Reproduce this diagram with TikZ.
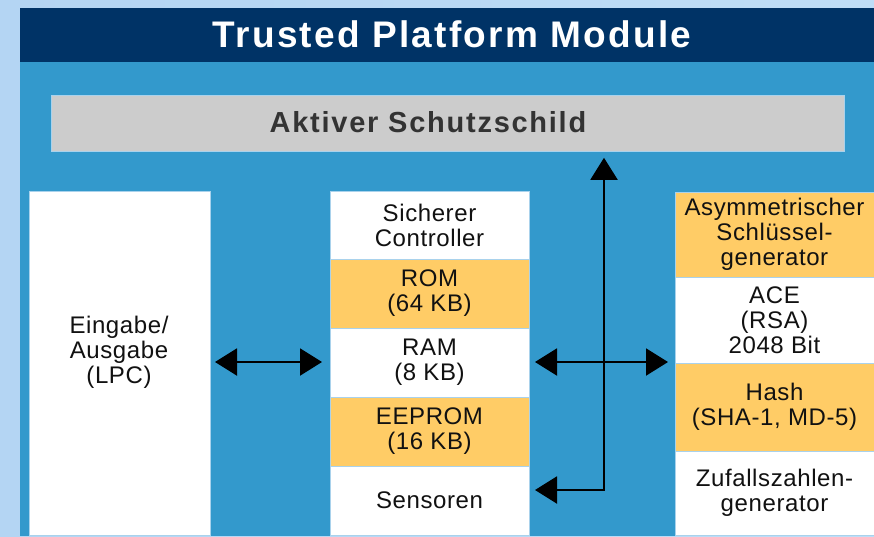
\documentclass[tikz,border=0pt]{standalone}
\usepackage{fontspec}
\setmainfont[LetterSpace=2.5]{Liberation Sans}
\newfontfamily\headfont[LetterSpace=6]{Liberation Sans}
\newfontfamily\shieldfont[LetterSpace=6]{Liberation Sans}
\usetikzlibrary{arrows.meta}
\definecolor{pageblue}{HTML}{B4D5F3}
\definecolor{pageblueright}{HTML}{BEDDF7}
\definecolor{headblue}{HTML}{003366}
\definecolor{modblue}{HTML}{3399CC}
\definecolor{shieldgray}{HTML}{CCCCCC}
\definecolor{memorange}{HTML}{FFCC66}
\definecolor{edgeblue}{HTML}{A9D2EC}
\definecolor{textdark}{HTML}{111111}
\tikzset{
  blk/.style={rectangle, inner sep=0pt, outer sep=0pt, anchor=north west,
    align=center, text=textdark, draw=edgeblue, line width=0.8pt,
    font=\fontsize{24}{25}\selectfont},
  whiteblk/.style={blk, fill=white},
  orangeblk/.style={blk, fill=memorange},
  midcol/.style={minimum width=199pt},
  rightcol/.style={minimum width=199pt},
  link/.style={line width=2pt, black,
    {Triangle[length=22pt,width=27pt]}-{Triangle[length=22pt,width=27pt]}},
}
\begin{document}
\begin{tikzpicture}[x=1pt,y=-1pt]
  % page and module frame
  \shade[left color=pageblue, right color=pageblueright] (0,0) rectangle (874,536);
  \useasboundingbox (0,0) rectangle (874,536);
  \fill[modblue] (20,62) rectangle (874,536);
  \node[rectangle, fill=headblue, inner sep=0pt, anchor=north west,
        minimum width=854pt, minimum height=54pt] (head) at (20,8) {};
  \node[text=white, font=\headfont\bfseries\fontsize{37}{37}\selectfont,
        anchor=base] (title) at (452,47) {Trusted Platform Module};

  % active shield
  \node[rectangle, fill=shieldgray, draw=edgeblue, line width=0.8pt,
        inner sep=0pt, anchor=north west,
        minimum width=793pt, minimum height=56pt] (shield) at (51,95) {};
  \node[text=black!80, font=\shieldfont\bfseries\fontsize{29}{29}\selectfont,
        anchor=base] (shieldtext) at (428,132) {Aktiver Schutzschild};

  % I/O block
  \node[whiteblk, minimum width=181pt, minimum height=344pt] (io) at (29,191) {};
  \node[text=textdark, align=center, font=\fontsize{24}{25}\selectfont]
        (iotext) at (119,352) {Eingabe/\\Ausgabe\\(LPC)};

  % secure controller column
  \node[whiteblk, midcol, minimum height=68pt] (ctrl) at (330,191) {Sicherer\\Controller};
  \node[orangeblk, midcol, minimum height=69pt] (rom) at (330,259) {ROM\\(64 KB)};
  \node[whiteblk, midcol, minimum height=69pt] (ram) at (330,328) {RAM\\(8 KB)};
  \node[orangeblk, midcol, minimum height=69pt] (eeprom) at (330,397) {EEPROM\\(16 KB)};
  \node[whiteblk, midcol, minimum height=69pt] (sens) at (330,466) {Sensoren};

  % crypto column
  \node[orangeblk, rightcol, minimum height=85pt] (asym) at (675,192) {Asymmetrischer\\Schlüssel-\\generator};
  \node[whiteblk, rightcol, minimum height=86pt] (ace) at (675,277) {ACE\\(RSA)\\2048 Bit};
  \node[orangeblk, rightcol, minimum height=88pt] (hash) at (675,363) {Hash\\(SHA-1, MD-5)};
  \node[whiteblk, rightcol, minimum height=84pt] (rng) at (675,451) {Zufallszahlen-\\generator};

  % buses
  \coordinate (busx) at (604,362);
  \coordinate (busbottom) at (604,490);
  \draw[link, shorten <=5pt, shorten >=8pt] (io.east |- busx) -- (ram.west |- busx);
  \draw[link, shorten <=6pt, shorten >=7pt] (ram.east |- busx) -- (ace.west |- busx);
  \draw[link, shorten <=6pt, shorten >=6pt]
    (shield.south -| busx) -- (busbottom) -- (sens.east |- busbottom);
\end{tikzpicture}
\end{document}
